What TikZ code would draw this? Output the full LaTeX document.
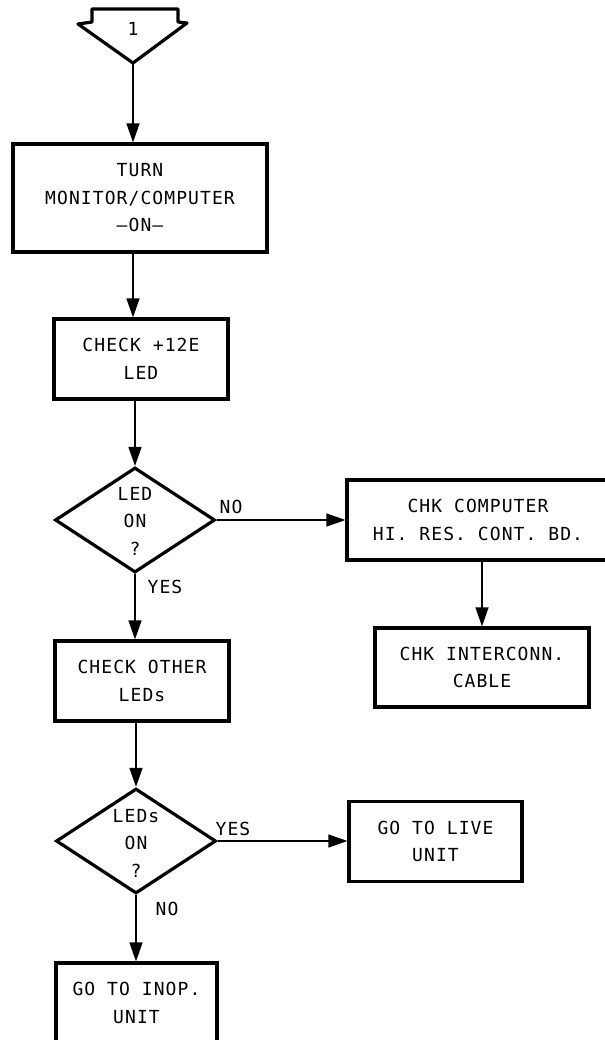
\documentclass[tikz,border=0pt]{standalone}
\usepackage{fontspec}
\newfontfamily\leroy[LetterSpace=6]{DejaVu Sans Mono}
\usetikzlibrary{arrows.meta,shapes.geometric,calc}
\tikzset{
  box/.style={draw, line width=3.2bp, rectangle, inner sep=0pt, align=center},
  dia/.style={draw, line width=3.2bp, diamond, inner sep=0pt, minimum width=160bp, minimum height=105bp},
  txt/.style={align=center, inner sep=0pt},
  conn/.style={line width=1.2bp, -{Triangle[length=19bp,width=13bp]}},
  lbl/.style={inner sep=0pt},
}
\begin{document}
\begin{tikzpicture}[x=1bp,y=-1bp,font=\leroy\fontsize{18bp}{27.5bp}\selectfont]
\useasboundingbox (0,0) rectangle (605,1040);
\clip (0,0) rectangle (605,1040);
\fill[white] (0,0) rectangle (605,1040);
% off-page connector
\draw[line width=3.2bp, line join=round] (92,9) -- (178,9) -- (178,22) -- (187,23) -- (133,63) -- (78,24) -- (92,22) -- cycle;
\coordinate (c1) at (133,63);
\node[lbl] (n1) at (133,29) {1};
% boxes
\node[box, minimum width=254bp, minimum height=108bp] (b1) at (140,198) {TURN\\MONITOR/COMPUTER\\–ON–};
\node[box, minimum width=174bp, minimum height=80bp] (b2) at (141,359) {CHECK +12E\\LED};
\node[dia] (d1) at (135,520) {};
\node[txt] (t1) at (135,521) {LED\\ON\\?};
\node[box, minimum width=262bp, minimum height=80bp] (b3) at (478,520) {CHK COMPUTER\\HI. RES. CONT. BD.};
\node[box, minimum width=214bp, minimum height=79bp] (b4) at (482,667.5) {CHK INTERCONN.\\CABLE};
\node[box, minimum width=174bp, minimum height=80bp] (b5) at (142,681) {CHECK OTHER\\LEDs};
\node[dia] (d2) at (136,841) {};
\node[txt] (t2) at (136,843) {LEDs\\ON\\?};
\node[box, minimum width=173bp, minimum height=80bp] (b6) at (435.5,841.5) {GO TO LIVE\\UNIT};
\node[box, minimum width=161bp, minimum height=90bp] (b7) at (136.5,1008) {};
\node[txt] (t7) at (136.5,1003) {GO TO INOP.\\UNIT};
% connectors
\draw[conn] (c1) -- (c1 |- b1.north);
\draw[conn] (b1.south -| c1) -- (b2.north -| c1);
\draw[conn] (d1.north |- b2.south) -- (d1.north);
\draw[conn] (d1.east) -- (d1.east -| b3.west);
\draw[conn] (b4.north |- b3.south) -- (b4.north);
\draw[conn] (d1.south) -- (d1.south |- b5.north);
\draw[conn] (d2.north |- b5.south) -- (d2.north);
\draw[conn] (d2.east) -- (d2.east -| b6.west);
\draw[conn] (d2.south) -- (d2.south |- b7.north);
% labels
\node[lbl] (l1) at (231,507) {NO};
\node[lbl] (l2) at (165,587) {YES};
\node[lbl] (l3) at (233,829) {YES};
\node[lbl] (l4) at (167,909) {NO};
\end{tikzpicture}
\end{document}
